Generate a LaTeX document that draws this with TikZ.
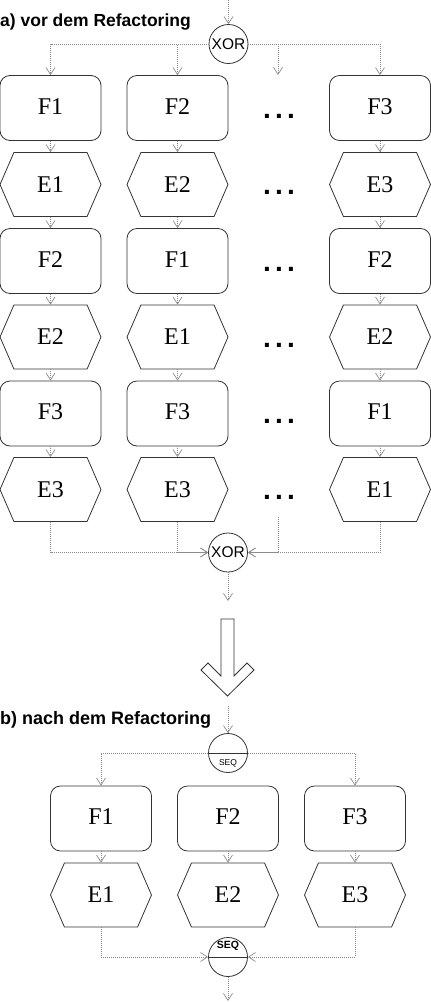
\documentclass[tikz,border=0pt]{standalone}
\usepackage{fontspec}
\setmainfont{Liberation Serif}
\setsansfont{Liberation Sans}
\usetikzlibrary{arrows.meta,shapes.symbols,calc}
\tikzset{
  fbox/.style={draw=black!80, line width=0.8pt, rounded corners=10pt, minimum width=101pt, minimum height=65pt, inner sep=0pt, text depth=3pt, font=\rmfamily\mdseries\fontsize{24}{26}\selectfont},
  ebox/.style={draw=black!80, line width=0.8pt, shape=signal, signal to=east and west, signal pointer angle=133, minimum width=101pt, minimum height=64pt, inner sep=0pt, font=\rmfamily\mdseries\fontsize{24}{26}\selectfont},
  conn/.style={draw=black!45, line width=0.8pt, dash pattern=on 1pt off 1pt, -{Straight Barb[length=7pt,width=9pt,line width=0.7pt]}},
  gate/.style={draw=black!80, line width=0.8pt, circle, minimum size=39pt, inner sep=0pt},
  lab/.style={anchor=base west, inner sep=0pt, font=\sffamily\bfseries\fontsize{17.5}{20}\selectfont},
  dots/.style={anchor=base, inner sep=0pt, font=\sffamily\bfseries\fontsize{28}{30}\selectfont},
}
\newcommand{\mydots}{.\kern4.2pt.\kern4.2pt.}
\begin{document}
\begin{tikzpicture}[x=1pt,y=-1pt]
\useasboundingbox (0,0) rectangle (431,1002);
% ---------- part a ----------
\node[lab] (labela) at (0,26) {a) vor dem Refactoring};
\node[gate, font=\sffamily\fontsize{15.5}{16}\selectfont] (xa) at (228.5,44) {XOR};
\coordinate (ina) at (228.5,0);
\draw[conn] (ina) -- (xa.north);
% columns
\foreach \col/\x/\ta/\tb/\tc/\td/\te/\tf in {1/50.5/F1/E1/F2/E2/F3/E3, 2/177.5/F2/E2/F1/E1/F3/E3, 3/380/F3/E3/F2/E2/F1/E1}{
  \node[fbox] (a\col1) at (\x,108) {\ta};
  \node[ebox] (a\col2) at (\x,184.5) {\tb};
  \node[fbox] (a\col3) at (\x,261) {\tc};
  \node[ebox] (a\col4) at (\x,337) {\td};
  \node[fbox] (a\col5) at (\x,413.5) {\te};
  \node[ebox] (a\col6) at (\x,489.5) {\tf};
  \draw[conn] (a\col1.south) -- (a\col2.north);
  \draw[conn] (a\col2.south) -- (a\col3.north);
  \draw[conn] (a\col3.south) -- (a\col4.north);
  \draw[conn] (a\col4.south) -- (a\col5.north);
  \draw[conn] (a\col5.south) -- (a\col6.north);
}
\foreach \r/\y in {1/108,2/184.5,3/261,4/337,5/413.5,6/489.5}{
  \node[dots] (d\r) at (279,\y+10) {\mydots};
}
\coordinate (dtop) at (278,75);
\coordinate (dbot) at (278,517);
\draw[conn] (xa.west) -| (a11.north);
\draw[conn] (xa.west) -| (a21.north);
\draw[conn] (xa.east) -| (dtop);
\draw[conn] (xa.east) -| (a31.north);
\node[gate, font=\sffamily\fontsize{15.5}{16}\selectfont] (xb) at (228,552.5) {XOR};
\draw[conn] (a16.south) |- (xb.west);
\draw[conn] (a26.south) |- (xb.west);
\draw[conn] (dbot) |- (xb.east);
\draw[conn] (a36.south) |- (xb.east);
\coordinate (outa) at (228,601);
\draw[conn] (xb.south) -- (outa);
% ---------- big arrow ----------
\draw[black!80, line width=0.8pt] (221,619) -- (234,619) -- (234,676) -- (247,663) -- (254,670) -- (227.5,696) -- (201,670) -- (208,663) -- (221,676) -- cycle;
% ---------- part b ----------
\node[lab, font=\sffamily\bfseries\fontsize{18}{20}\selectfont] (labelb) at (0,724) {b) nach dem Refactoring};
\node[gate] (s1) at (228,753) {};
\draw[black!80, line width=0.8pt] (s1.west) -- (s1.east);
\node[inner sep=0pt, font=\sffamily\fontsize{8.5}{9}\selectfont] (s1t) at (228,763) {SEQ};
\coordinate (inb) at (228,706);
\draw[conn] (inb) -- (s1.north);
\foreach \col/\x/\ta/\tb in {1/101/F1/E1, 2/228/F2/E2, 3/355/F3/E3}{
  \node[fbox] (bf\col) at (\x,818.5) {\ta};
  \node[ebox] (be\col) at (\x,895) {\tb};
  \draw[conn] (bf\col.south) -- (be\col.north);
}
\draw[conn] (s1.west) -| (bf1.north);
\draw[conn] (s1.east) -| (bf3.north);
\node[gate] (s2) at (228,957) {};
\draw[black!80, line width=0.8pt] (s2.west) -- (s2.east);
\node[inner sep=0pt, font=\sffamily\bfseries\fontsize{10.5}{11}\selectfont] (s2t) at (228,946) {SEQ};
\draw[conn] (be1.south) |- (s2.west);
\draw[conn] (be3.south) |- (s2.east);
\coordinate (outb) at (228,1001);
\draw[conn] (s2.south) -- (outb);
\end{tikzpicture}
\end{document}
